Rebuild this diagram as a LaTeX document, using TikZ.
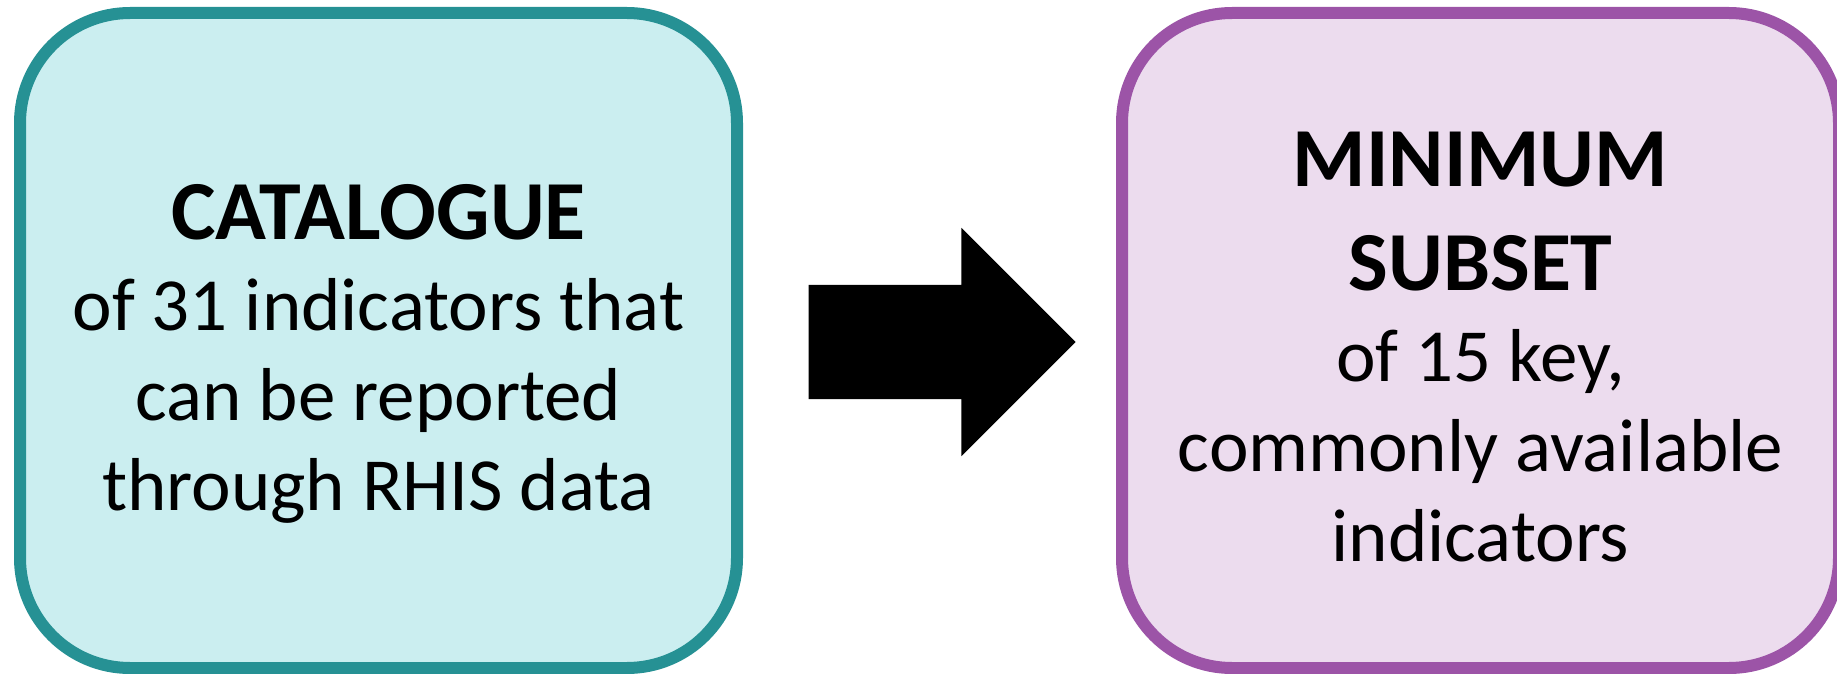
\documentclass[tikz,border=0pt]{standalone}
\usepackage{fontspec}
\setmainfont{Carlito}
\usetikzlibrary{shapes.arrows}

\definecolor{catline}{RGB}{38,145,148}
\definecolor{catfill}{RGB}{203,238,240}
\definecolor{subline}{RGB}{156,84,167}
\definecolor{subfill}{RGB}{236,220,238}
\newcommand{\hd}[1]{{\fontsize{84}{90}\selectfont\bfseries #1}}

\begin{document}
\begin{tikzpicture}[x=1pt,y=-1pt,
  bx/.style={draw,line width=12pt,rounded corners=110pt,minimum width=717pt,minimum height=655pt,inner sep=0pt},
  txt/.style={align=center,inner sep=0pt,font=\fontsize{75}{90}\selectfont}]
  \useasboundingbox (0,0) rectangle (1837,674);
  % the two boxes
  \node[bx,draw=catline,fill=catfill] (cat) at (378.5,340.5) {};
  \node[bx,draw=subline,fill=subfill] (sub) at (1480.5,340.5) {};
  \node[txt] (cattxt) at (378.5,354)
    {\hd{CATALOGUE}\\[1pt]of 31 indicators that\\can be reported\\through RHIS data};
  \node[txt] (subtxt) at (1480.5,347)
    {\hd{MINIMUM}\\[14pt]\hd{SUBSET}\\[1pt]of 15 key,\\commonly available\\indicators};
  % block arrow between them
  \node[single arrow,fill=black,inner xsep=0pt,inner ysep=57pt,minimum height=267pt,
    single arrow head extend=57pt,single arrow tip angle=90] (arr) at (913.5,342) {};
\end{tikzpicture}
\end{document}
